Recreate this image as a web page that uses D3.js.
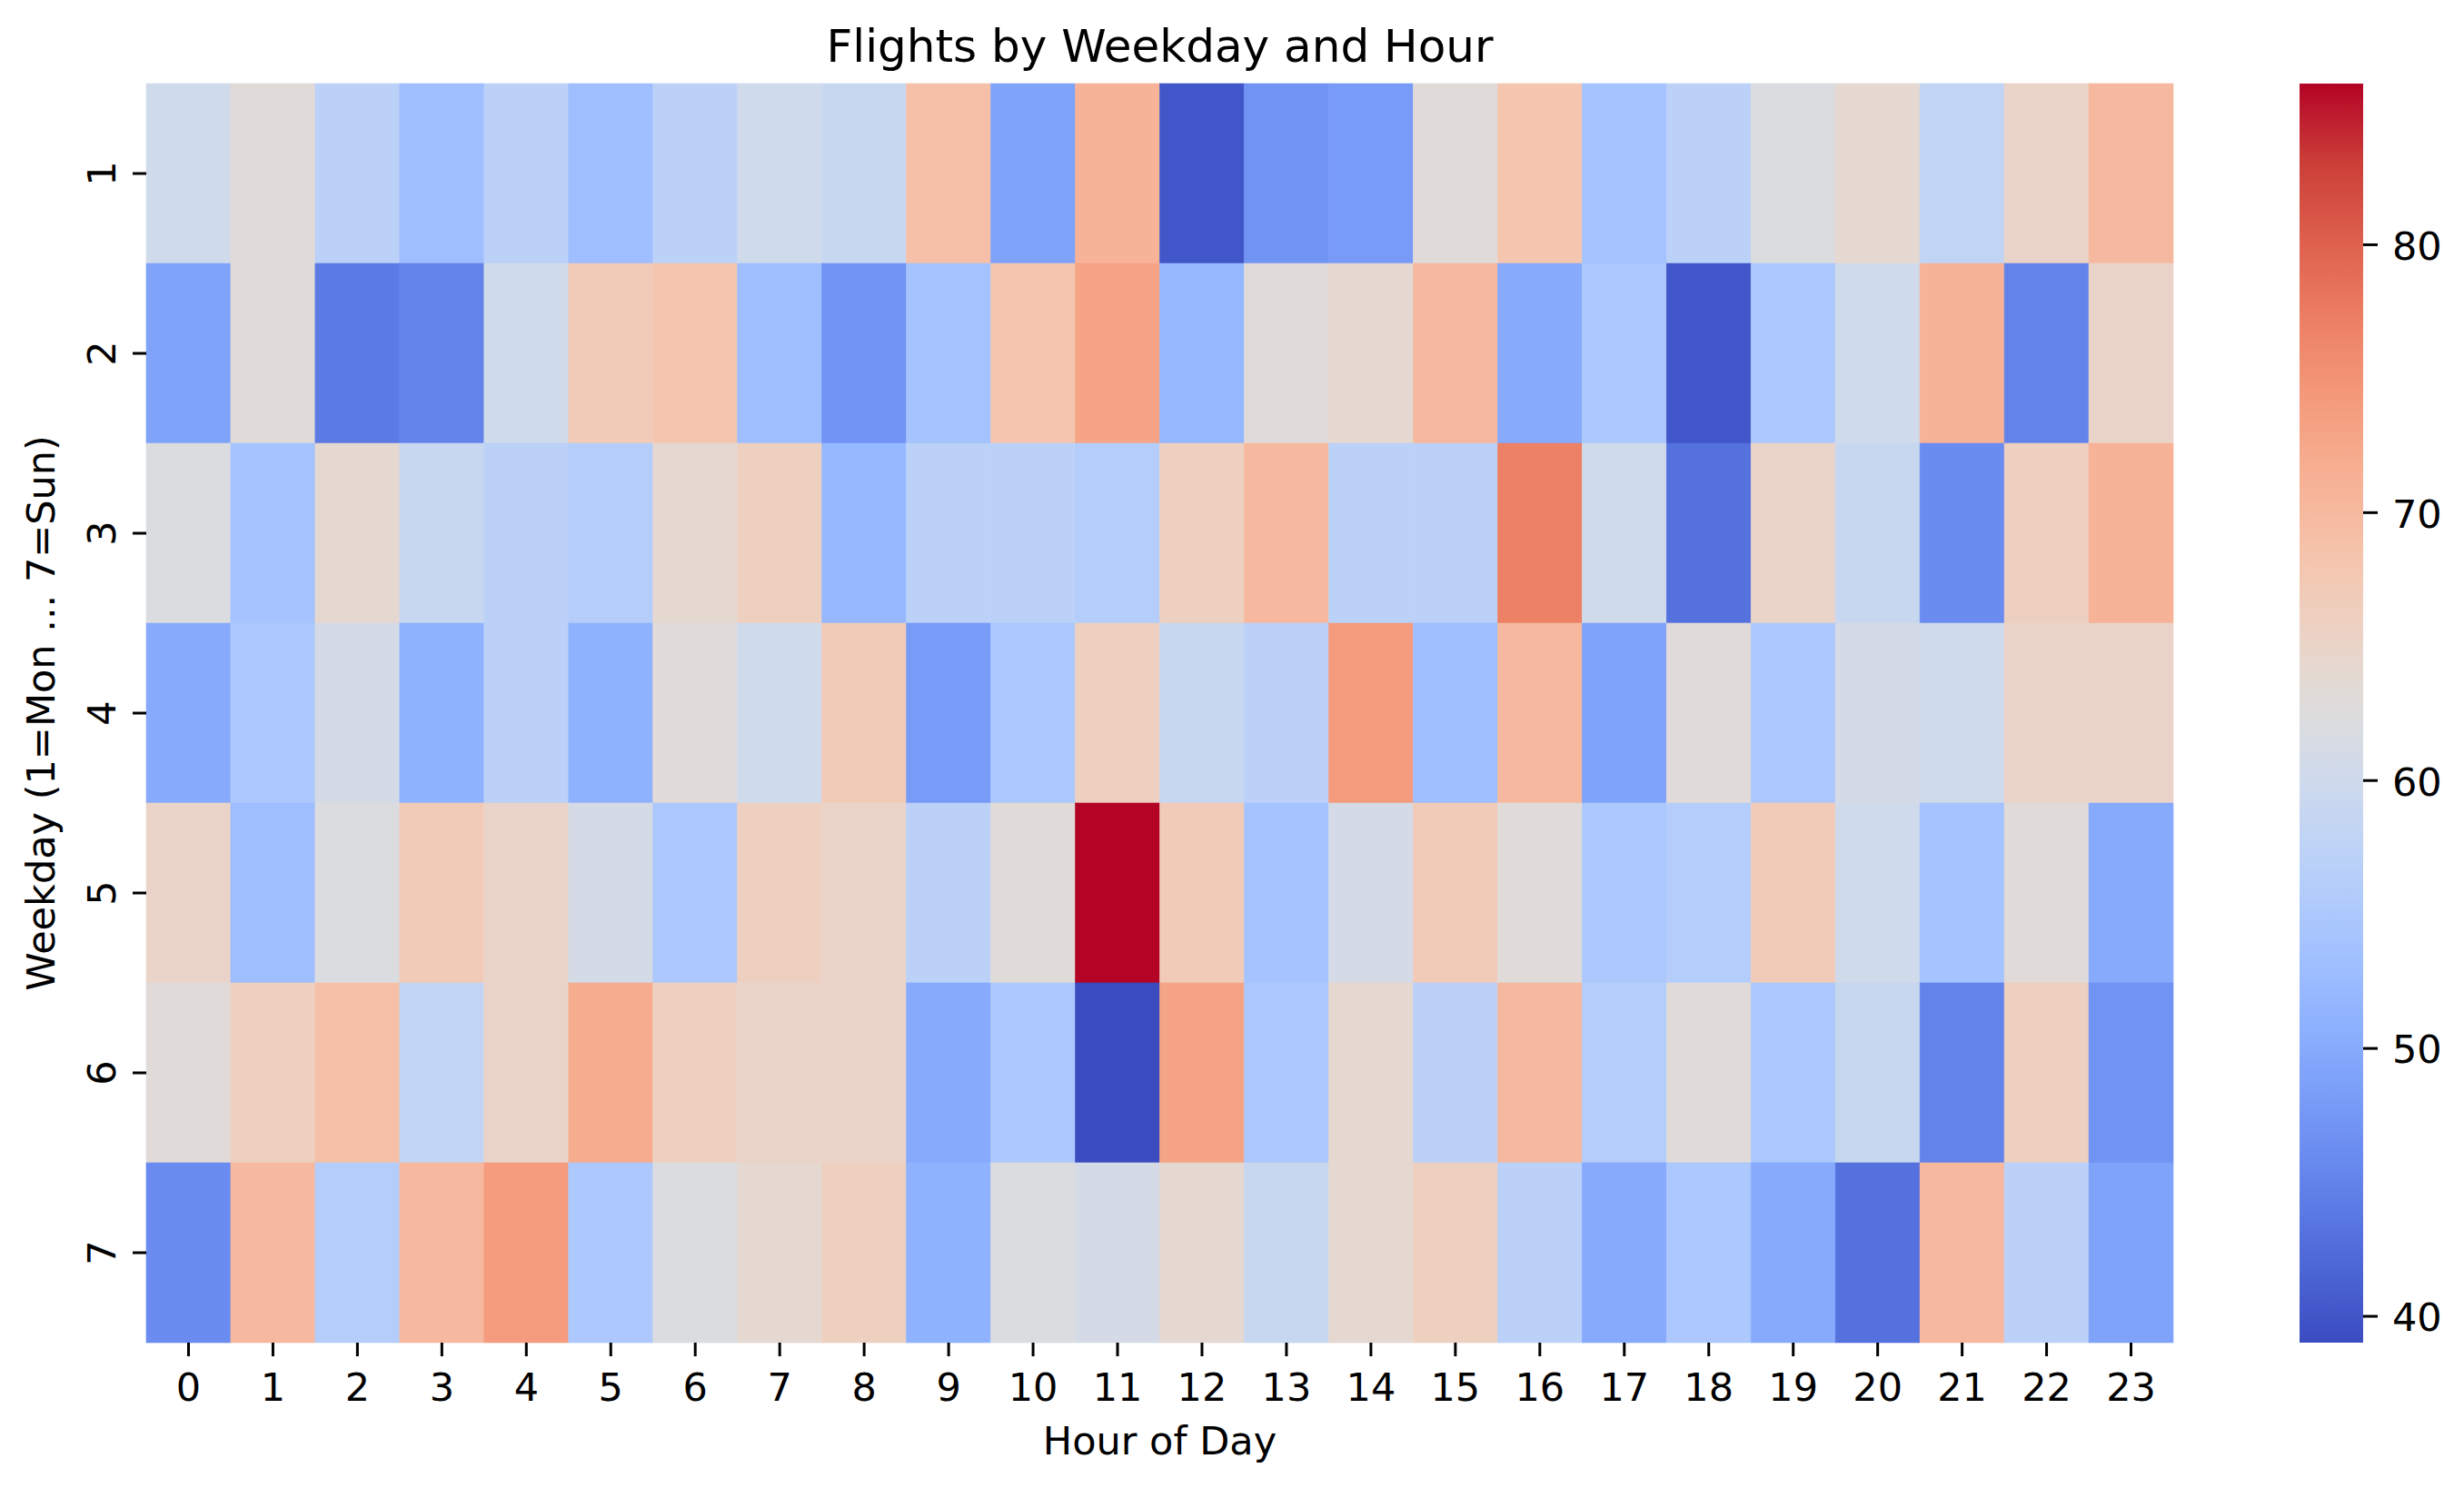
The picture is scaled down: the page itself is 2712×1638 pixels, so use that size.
<!DOCTYPE html>
<html>
<head>
<meta charset="utf-8">
<script src="https://cdn.jsdelivr.net/npm/d3@7"></script>
<style>
  body { margin: 0; background: #fff; }
  text { font-family: "DejaVu Sans", sans-serif; fill: #000; }
</style>
</head>
<body>
<script>
// data
var hours = d3.range(0, 24);
var weekdays = [1, 2, 3, 4, 5, 6, 7];

var mon = [60, 63, 57, 53, 57, 53, 57, 60, 59, 69, 49, 71, 40, 47, 48, 63, 68, 54, 57, 62, 64, 58, 65, 70];
var tue = [49, 63, 44, 45, 60, 67, 68, 53, 47, 54, 68, 73, 52, 63, 64, 70, 50, 55, 40, 55, 60, 71, 45, 65];
var wed = [62, 54, 64, 59, 57, 56, 64, 66, 52, 57, 57, 56, 66, 70, 57, 57, 77, 60, 43, 65, 59, 46, 66, 71];
var thu = [50, 55, 61, 51, 57, 51, 63, 60, 67, 48, 55, 66, 59, 57, 74, 53, 70, 49, 63, 55, 61, 60, 65, 65];
var fri = [65, 53, 62, 67, 65, 61, 55, 66, 65, 57, 63, 86, 67, 54, 61, 67, 63, 55, 56, 67, 60, 54, 63, 50];
var sat = [63, 66, 69, 58, 65, 72, 66, 65, 65, 50, 55, 39, 73, 55, 64, 57, 70, 56, 63, 55, 59, 45, 66, 47];
var sun = [46, 70, 56, 70, 74, 55, 62, 64, 66, 51, 62, 61, 64, 59, 64, 66, 57, 50, 55, 50, 43, 70, 57, 49];
var rows = [mon, tue, wed, thu, fri, sat, sun];

var vmin = 39, vmax = 86;
var cbarTicks = [40, 50, 60, 70, 80];

// coolwarm colormap
var cw = ["#3b4cc0", "#4d68d7", "#6282ea", "#779af7", "#8db0fe", "#a3c2ff", "#b8d0f9", "#ccd9ee",
          "#dddddd", "#ecd3c5", "#f5c4ac", "#f7b194", "#f49a7b", "#ec7f63", "#de604d", "#cb3e38", "#b40426"];

var W = 2712, H = 1638;
var pLeft = 161, pRight = 2392, pTop = 92, pBottom = 1478;

var svg = d3.select("body")
  .append("svg")
  .attr("width", W)
  .attr("height", H)

var x = d3.scaleBand().domain(hours).range([pLeft, pRight]);
var y = d3.scaleBand().domain(weekdays).range([pTop, pBottom]);

var color = d3.scaleLinear()
  .domain(cw.map(function(c, i) { return vmin + (vmax - vmin) * i / (cw.length - 1); }))
  .range(cw)
  .interpolate(d3.interpolateRgb)
  .clamp(true);

var cells = [];
rows.forEach(function(r, i) {
  r.forEach(function(v, j) {
    cells.push({day: weekdays[i], hour: hours[j], value: v});
  });
});

svg.append("g")
  .selectAll("rect")
  .data(cells)
  .enter().append("rect")
  .attr("x", function(d) { return x(d.hour); })
  .attr("y", function(d) { return y(d.day); })
  .attr("width", x.bandwidth())
  .attr("height", y.bandwidth())
  .attr("fill", function(d) { return color(d.value); })
  .attr("stroke", function(d) { return color(d.value); })
  .attr("stroke-width", 0.6);

// x axis
var xAxis = svg.append("g")
  .attr("transform", "translate(0," + pBottom + ")")
  .call(d3.axisBottom(x).tickSize(15).tickPadding(18));
xAxis.select(".domain").remove();
xAxis.selectAll("line").attr("stroke", "#000").attr("stroke-width", 3);
xAxis.selectAll("text").style("font-size", "43px").attr("font-family", null);

// y axis, labels turned
var yAxis = svg.append("g")
  .attr("transform", "translate(" + pLeft + ",0)")
  .call(d3.axisLeft(y).tickSize(15));
yAxis.select(".domain").remove();
yAxis.selectAll("line").attr("stroke", "#000").attr("stroke-width", 3);
yAxis.selectAll("text")
  .style("font-size", "43px")
  .attr("font-family", null)
  .attr("text-anchor", "middle")
  .attr("transform", "rotate(-90)")
  .attr("x", 0)
  .attr("y", -34)
  .attr("dy", null);

svg.append("text")
  .attr("x", (pLeft + pRight) / 2)
  .attr("y", 68)
  .attr("text-anchor", "middle")
  .style("font-size", "50px")
  .text("Flights by Weekday and Hour");

svg.append("text")
  .attr("x", (pLeft + pRight) / 2)
  .attr("y", 1601)
  .attr("text-anchor", "middle")
  .style("font-size", "43px")
  .text("Hour of Day");

svg.append("text")
  .attr("transform", "translate(60," + (pTop + pBottom) / 2 + ") rotate(-90)")
  .attr("text-anchor", "middle")
  .style("font-size", "43px")
  .text("Weekday (1=Mon ... 7=Sun)");

// colorbar
var cbX = 2531, cbW = 70;
var cb = d3.scaleLinear().domain([vmin, vmax]).range([pBottom, pTop]);

var grad = svg.append("defs").append("linearGradient")
  .attr("id", "cbar")
  .attr("x1", 0).attr("y1", 1).attr("x2", 0).attr("y2", 0);
d3.range(0, 101).forEach(function(i) {
  grad.append("stop")
    .attr("offset", i + "%")
    .attr("stop-color", color(vmin + (vmax - vmin) * i / 100));
});

svg.append("rect")
  .attr("x", cbX)
  .attr("y", pTop)
  .attr("width", cbW)
  .attr("height", pBottom - pTop)
  .attr("fill", "url(#cbar)");

var cAxis = svg.append("g")
  .attr("transform", "translate(" + (cbX + cbW) + ",0)")
  .call(d3.axisRight(cb).tickValues(cbarTicks).tickSize(16).tickPadding(16));
cAxis.select(".domain").remove();
cAxis.selectAll("line").attr("stroke", "#000").attr("stroke-width", 3);
cAxis.selectAll("text").style("font-size", "43px").attr("font-family", null).attr("dy", "0.38em");
</script>
</body>
</html>
